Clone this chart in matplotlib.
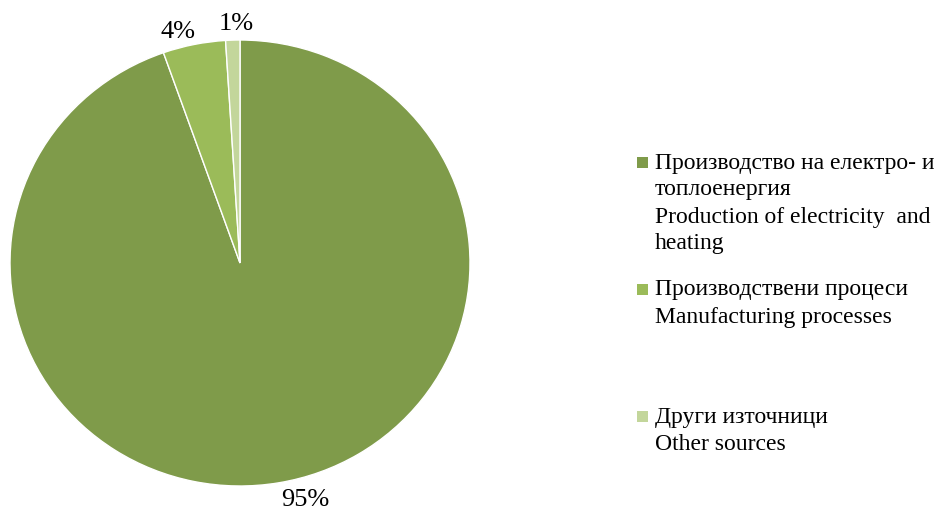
import matplotlib.pyplot as plt
from matplotlib.patches import Rectangle

plt.rcParams['font.family'] = ['Liberation Serif', 'DejaVu Serif']

# данни
shares = [94.6, 4.4, 1.0]
labels = ['Производство на електро- и\nтоплоенергия\nProduction of electricity  and\nheating',
          'Производствени процеси\nManufacturing processes',
          'Други източници\nOther sources']
colors = ['#7F9B4A', '#9BBB59', '#C3D69B']
# позиции на процентите (в единици на радиуса)
pct_pos = [(0.283, -1.063), (-0.27, 1.036), (-0.017, 1.07)]

fig = plt.figure(figsize=(9.4, 5.15), dpi=100)
W, H = 940, 515

# ос за кръговата диаграма (център ~ (240, 263) px)
cx, cy, rx, ry = 240, 263, 230, 223
ax = fig.add_axes([(cx - rx) / W, (H - cy - ry) / H, 2 * rx / W, 2 * ry / H])
wedges, texts, autotexts = ax.pie(shares, colors=colors, startangle=90, counterclock=False,
                                  autopct='%.0f%%', pctdistance=1.08,
                                  wedgeprops=dict(edgecolor='white', linewidth=1),
                                  textprops=dict(fontsize=19, color='black'))
ax.set_aspect('auto')
ax.set_xlim(-1, 1)
ax.set_ylim(-1, 1)
for t, p in zip(autotexts, pct_pos):
    t.set_position(p)
    t.set_clip_on(False)

# легенда
legend_y = [163, 290, 417]
for lab, col, y in zip(labels, colors, legend_y):
    fig.patches.append(Rectangle((637 / W, (H - y - 5) / H), 11 / W, 11 / H,
                                 transform=fig.transFigure, facecolor=col, edgecolor='none'))
    for i, line in enumerate(lab.split('\n')):
        fig.text(655 / W, (H - y - 27 * i) / H, line, fontsize=17, va='center', ha='left')

fig.savefig('out.png', dpi=100)
